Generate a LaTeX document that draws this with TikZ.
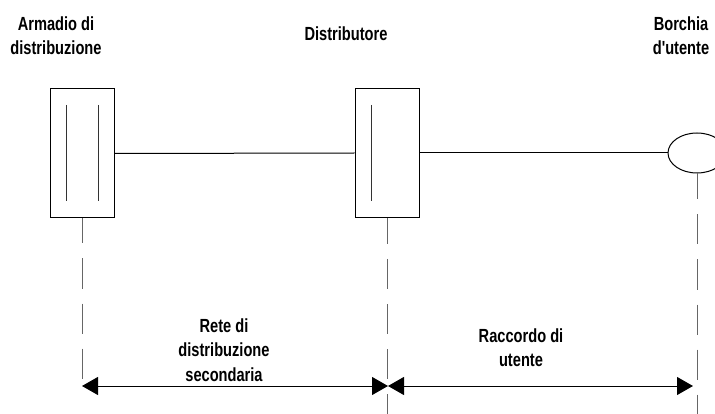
\documentclass[tikz,border=0pt]{standalone}
\usepackage{fontspec}
\newfontfamily\labfont{Liberation Sans}[FakeStretch=0.77]
\usetikzlibrary{shapes.geometric,arrows.meta}
\begin{document}
\begin{tikzpicture}[x=1pt,y=-1pt,
  lab/.style={font={\labfont\bfseries\fontsize{19}{24.5}\selectfont},align=center,inner sep=0pt,anchor=north},
  boxnode/.style={draw,line width=1pt,minimum width=64pt,minimum height=129pt,inner sep=0pt},
  conn/.style={line width=1pt},
  vdash/.style={line width=1pt,draw=black!60,dash pattern=on 30pt off 15pt},
  dimarrow/.style={line width=1pt,-{Triangle[length=16pt,width=18pt]}},
  inner/.style={line width=1pt,draw=black!80}
]
\useasboundingbox (0,0) rectangle (715,414);
\begin{scope}
\clip (0,0) rectangle (715,414);
% nodes
\node[boxnode] (arm) at (82,153.5) {};
\node[boxnode] (dis) at (387,153) {};
\node[draw,ellipse,line width=1pt,minimum width=58pt,minimum height=40pt,inner sep=0pt] (bor) at (697,153) {};
% inner lines
\draw[inner] (66,105) -- (66,201);
\draw[inner] (98,105) -- (98,201);
\draw[inner] (371,105) -- (371,201);
% connectors
\draw[conn] (arm.east) -- (dis.west);
\draw[conn] (dis.east) -- (bor.west);
% dashed verticals
\coordinate (armend) at (82,380);
\coordinate (disend) at (387,414);
\coordinate (borend) at (697,414);
\draw[vdash,dash phase=5pt] (arm.south) -- (armend);
\draw[vdash,dash phase=4pt] (dis.south) -- (disend);
\draw[vdash,dash phase=4pt] (bor.south) -- (borend);
% dimension arrows
\coordinate (a1) at (82,386);
\coordinate (a2) at (388,386);
\coordinate (a3) at (693,386);
\coordinate (am) at (235,386);
\coordinate (bm) at (540,386);
\draw[dimarrow] (am) -- (a1);
\draw[dimarrow] (am) -- (a2);
\draw[dimarrow] (bm) -- (a2);
\draw[dimarrow] (bm) -- (a3);
\end{scope}
% labels
\node[lab] (tarm) at (56,16.5) {Armadio di\\distribuzione};
\node[lab] (tdis) at (346,26.5) {Distributore};
\node[lab] (tbor) at (681,16.5) {Borchia\\d'utente};
\node[lab] (tret) at (224,318.5) {Rete di\\distribuzione\\secondaria};
\node[lab] (trac) at (521,328.5) {Raccordo di\\utente};
\end{tikzpicture}
\end{document}
